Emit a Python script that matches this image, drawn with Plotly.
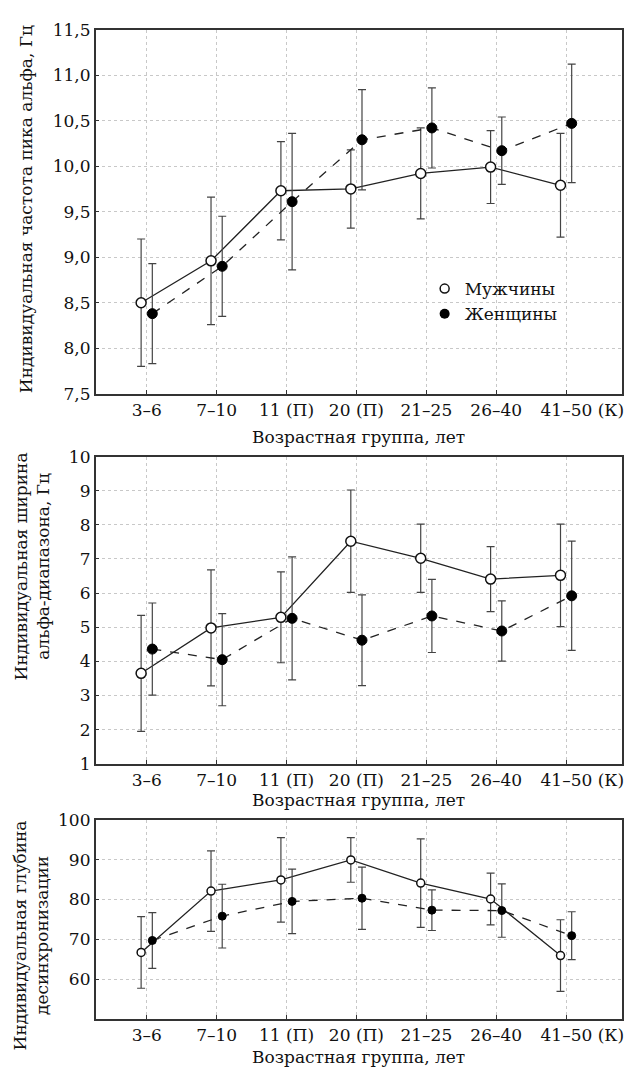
import plotly.graph_objects as go

categories = ["3–6", "7–10", "11 (П)", "20 (П)", "21–25", "26–40", "41–50 (К)"]
series_names = ["Мужчины", "Женщины"]

peak_men = [8.50, 8.96, 9.73, 9.75, 9.92, 9.99, 9.79]
peak_men_err = [0.70, 0.70, 0.54, 0.43, 0.50, 0.40, 0.57]
peak_women = [8.38, 8.90, 9.61, 10.29, 10.42, 10.17, 10.47]
peak_women_err = [0.55, 0.55, 0.75, 0.55, 0.44, 0.37, 0.65]

width_men = [3.65, 4.98, 5.29, 7.52, 7.02, 6.41, 6.52]
width_men_err = [1.70, 1.70, 1.33, 1.50, 1.00, 0.95, 1.50]
width_women = [4.36, 4.05, 5.26, 4.62, 5.33, 4.89, 5.92]
width_women_err = [1.35, 1.35, 1.80, 1.33, 1.07, 0.88, 1.60]

depth_men = [66.7, 82.1, 84.9, 89.9, 84.1, 80.1, 65.9]
depth_men_err = [9.0, 10.1, 10.6, 5.6, 11.1, 6.5, 9.0]
depth_women = [69.7, 75.8, 79.5, 80.3, 77.3, 77.2, 70.9]
depth_women_err = [7.0, 8.0, 8.1, 7.8, 5.1, 6.7, 6.0]

y_titles = [
    "Индивидуальная частота пика альфа, Гц",
    "Индивидуальная ширина<br>альфа-диапазона, Гц",
    "Индивидуальная глубина<br>десинхронизации",
]
x_title = "Возрастная группа, лет"

W, H = 627, 1079
FONT = "'DejaVu Serif', serif"
FS = 17

idx = list(range(len(categories)))
off = 0.08
x_men = [i - off for i in idx]
x_women = [i + off for i in idx]

# the last label sits a little right of its tick in the original
tick_text = categories[:-1] + ["\u00a0" * 6 + categories[-1]]

fig = go.Figure()

panels = [
    (peak_men, peak_men_err, peak_women, peak_women_err, "x", "y", 10),
    (width_men, width_men_err, width_women, width_women_err, "x2", "y2", 10),
    (depth_men, depth_men_err, depth_women, depth_women_err, "x3", "y3", 8),
]

for m, me, w, we, xa, ya, ms in panels:
    fig.add_trace(go.Scatter(
        x=x_men, y=m, xaxis=xa, yaxis=ya, mode="lines+markers",
        line=dict(color="#222", width=1.3),
        marker=dict(symbol="circle", size=ms, color="white", line=dict(color="#111", width=1.5)),
        error_y=dict(type="data", array=me, visible=True, color="#444", thickness=1.2, width=4),
        showlegend=False,
    ))
    fig.add_trace(go.Scatter(
        x=x_women, y=w, xaxis=xa, yaxis=ya, mode="lines+markers",
        line=dict(color="#222", width=1.3, dash="dash"),
        marker=dict(symbol="circle", size=ms, color="black", line=dict(color="black", width=1)),
        error_y=dict(type="data", array=we, visible=True, color="#444", thickness=1.2, width=4),
        showlegend=False,
    ))

# legend entries (marker only)
fig.add_trace(go.Scatter(x=[None], y=[None], mode="markers", name=series_names[0],
                         marker=dict(symbol="circle", size=9, color="white", line=dict(color="#111", width=1.5))))
fig.add_trace(go.Scatter(x=[None], y=[None], mode="markers", name=series_names[1],
                         marker=dict(symbol="circle", size=10, color="black")))

xdom = [96 / W, 624 / W]
ydoms = [
    [1 - 391 / H, 1 - 20 / H],
    [1 - 768 / H, 1 - 455 / H],
    [1 - 1028 / H, 1 - 825 / H],
]

axis_common = dict(
    showline=True, linecolor="#333", linewidth=1.6, mirror=True,
    ticks="inside", ticklen=4, tickcolor="#333",
    showgrid=True, gridcolor="#c8c8c8", griddash="dot", gridwidth=1,
    zeroline=False,
    tickfont=dict(family=FONT, size=FS, color="#111"),
)

xaxis = dict(axis_common, domain=xdom, range=[-0.73, 6.8],
             tickmode="array", tickvals=idx, ticktext=tick_text,
             tickangle=0, ticklabeloverflow="allow")

fig.update_layout(
    xaxis=dict(xaxis, anchor="y"),
    xaxis2=dict(xaxis, anchor="y2"),
    xaxis3=dict(xaxis, anchor="y3"),
    yaxis=dict(axis_common, domain=ydoms[0], range=[7.5, 11.5], anchor="x",
               tickmode="array", tickvals=[7.5, 8, 8.5, 9, 9.5, 10, 10.5, 11, 11.5], tickformat=".1f"),
    yaxis2=dict(axis_common, domain=ydoms[1], range=[1, 10], anchor="x2",
                tickmode="array", tickvals=list(range(1, 11))),
    yaxis3=dict(axis_common, domain=ydoms[2], range=[50, 100], anchor="x3",
                tickmode="array", tickvals=[60, 70, 80, 90, 100]),
    separators=", ",
    width=W, height=H,
    margin=dict(l=0, r=0, t=0, b=0),
    paper_bgcolor="white", plot_bgcolor="white",
    font=dict(family=FONT, size=FS, color="#111"),
    legend=dict(x=426 / W, y=1 - 266 / H, xanchor="left", yanchor="top",
                bgcolor="rgba(0,0,0,0)", font=dict(family=FONT, size=FS),
                itemwidth=30, tracegroupgap=0),
)

annotations = []
xc = (96 + 624) / 2 / W
for ypx in [435, 805, 1067]:
    annotations.append(dict(text=x_title, x=xc, y=1 - ypx / H, xref="paper", yref="paper",
                            xanchor="center", yanchor="middle", showarrow=False,
                            font=dict(family=FONT, size=FS)))
for txt, (xpx, ypx) in zip(y_titles, [(26, 203), (33, 567), (31, 943)]):
    annotations.append(dict(text=txt, x=xpx / W, y=1 - ypx / H, xref="paper", yref="paper",
                            xanchor="center", yanchor="middle", textangle=-90, showarrow=False,
                            font=dict(family=FONT, size=FS)))
fig.update_layout(annotations=annotations)

fig.write_html("out.html", config={"displayModeBar": False},
               post_script="document.body.style.margin='0px';document.body.style.overflow='hidden';")
